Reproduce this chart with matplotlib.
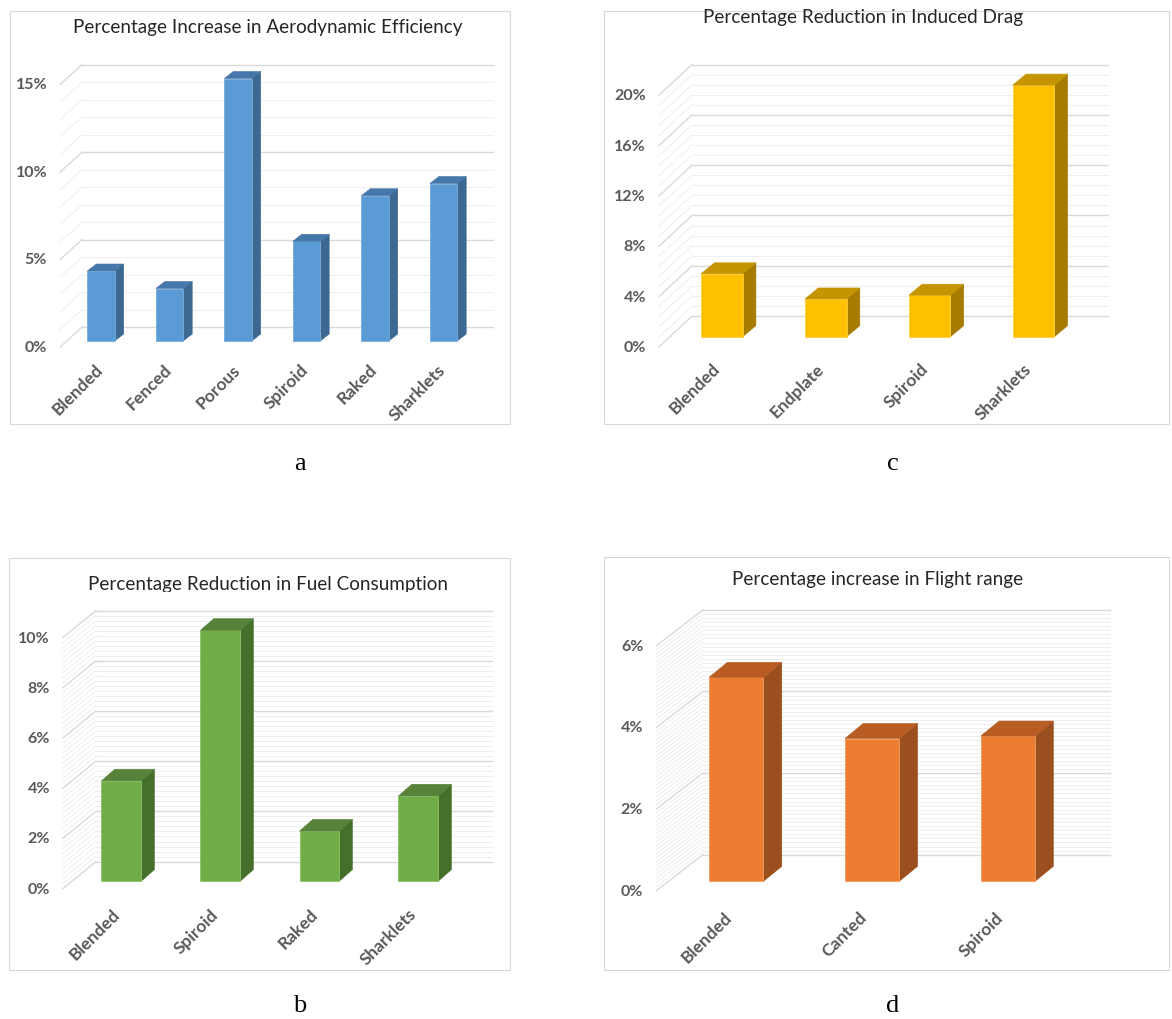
import numpy as np
import matplotlib
matplotlib.use("Agg")
import matplotlib.pyplot as plt
from matplotlib.patches import Polygon, Rectangle
from matplotlib.transforms import offset_copy, Bbox, TransformedBbox

plt.rcParams['font.family'] = ['Lato', 'DejaVu Sans']

# Datos -------------------------------------------------------------------
cats_a = ['Blended', 'Fenced', 'Porous', 'Spiroid', 'Raked', 'Sharklets']
vals_a = [4.0, 3.0, 15.0, 5.7, 8.3, 9.0]      # aumento eficiencia aerodinamica (%)

cats_c = ['Blended', 'Endplate', 'Spiroid', 'Sharklets']
vals_c = [5.0, 3.0, 3.3, 20.0]                # reduccion resistencia inducida (%)

cats_b = ['Blended', 'Spiroid', 'Raked', 'Sharklets']
vals_b = [4.0, 10.0, 2.0, 3.4]                # reduccion consumo combustible (%)

cats_d = ['Blended', 'Canted', 'Spiroid']
vals_d = [5.0, 3.5, 3.56]                     # aumento alcance (%)

W, H = 1172, 1020
fig = plt.figure(figsize=(W / 100, H / 100), dpi=100)
fig.patch.set_facecolor('white')

TXT = '#595959'


# Funciones ----------------------------------------------------------------
def columnas_3d(box, cats, vals, ymax, major, minor, colores, D, f, B, lab_off):
    xl, xr, y0, yt = box
    n = len(cats)
    ax = fig.add_axes([xl / W, 1 - y0 / H, (xr - xl) / W, (y0 - yt) / H])
    ax.set_xlim(-0.5, n - 0.5)
    ax.set_ylim(0, ymax)
    ax.axis('off')

    sx = n / (xr - xl)          # unidades de dato por pixel
    sy = ymax / (y0 - yt)
    Dx, Dy = D[0] * sx, D[1] * sy
    Bx, By = B[0] * sx, B[1] * sy

    # pared del fondo y pared lateral
    niveles = np.round(np.arange(0, ymax + minor / 2, minor), 4)
    for v in niveles:
        es_mayor = abs(v / major - round(v / major)) < 1e-6
        col = '#d9d9d9' if es_mayor else '#eeeeee'
        lw = 1.0 if es_mayor else 0.7
        ax.plot([-0.5 + (1 - f) * Dx, n - 0.5 + (1 - f) * Dx],
                [v + (1 - f) * Dy] * 2, color=col, lw=lw, clip_on=False, zorder=1)
        ax.plot([-0.5 - f * Dx, -0.5 + (1 - f) * Dx],
                [v - f * Dy, v + (1 - f) * Dy], color=col, lw=lw, clip_on=False, zorder=1)

    # etiquetas del eje y
    tr = offset_copy(ax.transData, fig=fig, x=-13, y=0, units='dots')
    for v in np.arange(0, ymax + major / 2, major):
        ax.text(-0.5 - f * Dx, v - f * Dy, f'{v:g}%', transform=tr, ha='right',
                va='center', fontsize=11.5, fontweight='bold', color=TXT)

    # columnas: cara frontal, lateral y superior
    cara, lado, tapa, borde = colores
    x = np.arange(n)
    w = 0.4
    ax.bar(x, vals, width=w, color=cara, edgecolor=borde, lw=0.6, zorder=3, clip_on=False)
    for xi, v in zip(x, vals):
        r = xi + w / 2
        ax.add_patch(Polygon([(r, 0), (r + Bx, By), (r + Bx, v + By), (r, v)],
                             closed=True, fc=lado, ec=lado, lw=0.4, zorder=2, clip_on=False))
        ax.add_patch(Polygon([(xi - w / 2, v), (r, v), (r + Bx, v + By), (xi - w / 2 + Bx, v + By)],
                             closed=True, fc=tapa, ec=tapa, lw=0.4, zorder=4, clip_on=False))

    # etiquetas de categoria giradas
    trc = offset_copy(ax.transData, fig=fig, x=lab_off[0], y=lab_off[1], units='dots')
    for xi, c in zip(x, cats):
        ax.text(xi, -f * Dy, c, transform=trc, rotation=45, ha='right', va='top',
                rotation_mode='anchor', fontsize=12.5, fontweight='bold', color=TXT)
    return ax


def marco(x0, y0, x1, y1):
    fig.patches.append(Rectangle((x0 / W, 1 - y1 / H), (x1 - x0) / W, (y1 - y0) / H,
                                 transform=fig.transFigure, fill=False,
                                 ec='#d9d9d9', lw=0.8))


# Marcos ---------------------------------------------------------------------
marco(10, 12, 510, 425)
marco(604, 12, 1169, 425)
marco(9, 559, 510, 971)
marco(604, 558, 1169, 971)

# Graficos -------------------------------------------------------------------
columnas_3d((66.75, 477.75, 342, 79.5), cats_a, vals_a, 15, 5, 1,
            ('#5b9bd5', '#3d6891', '#4677ab', '#78acdc'),
            D=(22, 20), f=0.3, B=(9, 7), lab_off=(-6, -14))
columnas_3d((669.9, 1085.5, 337.7, 86.1), cats_c, vals_c, 20, 4, 0.8,
            ('#ffc000', '#a67c00', '#c49500', '#ffcf40'),
            D=(33, 30.7), f=0.33, B=(13.3, 11), lab_off=(-10, -13))
columnas_3d((71.8, 467.8, 882.3, 631.3), cats_b, vals_b, 10, 2, 0.2,
            ('#70ad47', '#466f2c', '#56823a', '#8cc068'),
            D=(33, 27), f=0.27, B=(13.3, 11.7), lab_off=(-10, -17))
columnas_3d((668.4, 1075.8, 882.3, 637.5), cats_d, vals_d, 6, 2, 0.1,
            ('#ed7d31', '#9c4f1e', '#b85c23', '#f39a5c'),
            D=(46.7, 36), f=0.26, B=(18.3, 15), lab_off=(-13, -18))

# Titulos ----------------------------------------------------------------
kw = dict(ha='center', va='center', fontsize=13.6, color='#262626')
fig.text(268 / W, 1 - 27 / H, 'Percentage Increase in Aerodynamic Efficiency', **kw)
fig.text(863 / W, 1 - 17 / H, 'Percentage Reduction in Induced Drag', **kw)
tb = fig.text(268 / W, 1 - 585 / H, 'Percentage Reduction in Fuel Consumption', **kw)
tb.set_clip_box(TransformedBbox(Bbox.from_extents(0, 1 - 593 / H, 0.5, 1 - 560 / H),
                                fig.transFigure))
tb.set_clip_on(True)
fig.text(878 / W, 1 - 580 / H, 'Percentage increase in Flight range', **kw)

# Letras de cada panel
kc = dict(ha='center', va='center', fontsize=19, family='Liberation Serif', color='black')
fig.text(300 / W, 1 - 464 / H, 'a', **kc)
fig.text(893 / W, 1 - 464 / H, 'c', **kc)
fig.text(300 / W, 1 - 1006 / H, 'b', **kc)
fig.text(893 / W, 1 - 1006 / H, 'd', **kc)

fig.savefig('out.png', dpi=100, facecolor='white')
